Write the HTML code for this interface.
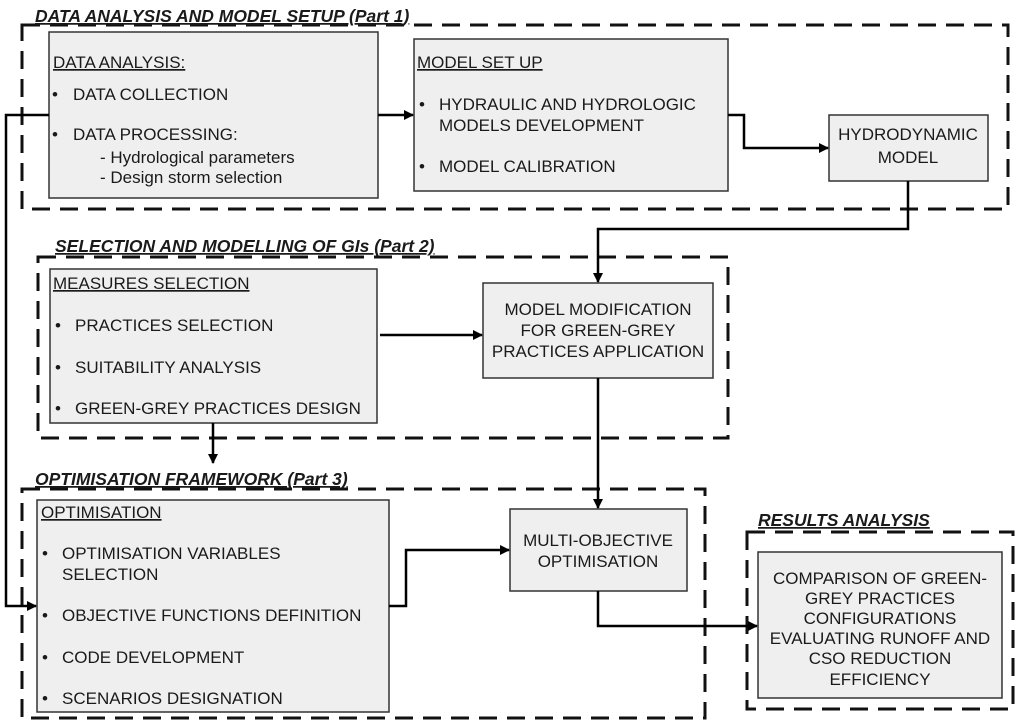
<!DOCTYPE html>
<html><head><meta charset="utf-8"><style>
html,body{margin:0;padding:0;background:#fff;}
svg{display:block;}
text{font-family:"Liberation Sans",Arial,sans-serif;font-size:17px;fill:#1a1a1a;}
.t{font-weight:bold;font-style:italic;font-size:17.5px;text-decoration:underline;}
.u{text-decoration:underline;}
.box{fill:#efefef;stroke:#333;stroke-width:1.5;}
.d{fill:none;stroke:#111;stroke-width:3;stroke-dasharray:18 10;}
.l{fill:none;stroke:#000;stroke-width:2.5;}
</style></head><body>
<svg width="1024" height="726" viewBox="0 0 1024 726" xmlns="http://www.w3.org/2000/svg">
<defs><marker id="a" markerWidth="10" markerHeight="10" refX="9" refY="5" orient="auto" markerUnits="userSpaceOnUse"><path d="M0,0 L10,5 L0,10 z" fill="#000"/></marker></defs>

<rect class="d" x="22" y="25" width="986" height="184"/>
<rect class="d" x="38" y="257" width="690" height="181"/>
<rect class="d" x="22" y="489" width="683" height="229"/>
<rect class="d" x="747" y="532" width="266" height="177"/>

<text class="t" x="35" y="22">DATA ANALYSIS AND MODEL SETUP (Part 1)</text>
<text class="t" x="55" y="252">SELECTION AND MODELLING OF GIs (Part 2)</text>
<text class="t" x="35" y="485">OPTIMISATION FRAMEWORK (Part 3)</text>
<text class="t" x="758" y="526">RESULTS ANALYSIS</text>

<rect class="box" x="49" y="32" width="329" height="166"/>
<text class="u" x="53" y="68">DATA ANALYSIS:</text>
<text x="52" y="100">•</text><text x="73" y="100">DATA COLLECTION</text>
<text x="52" y="140">•</text><text x="73" y="140">DATA PROCESSING:</text>
<text x="100" y="163">- Hydrological parameters</text>
<text x="100" y="183">- Design storm selection</text>

<rect class="box" x="414" y="39" width="314" height="152"/>
<text class="u" x="417" y="68">MODEL SET UP</text>
<text x="419" y="110">•</text><text x="439" y="110">HYDRAULIC AND HYDROLOGIC</text>
<text x="439" y="131">MODELS DEVELOPMENT</text>
<text x="419" y="172">•</text><text x="439" y="172">MODEL CALIBRATION</text>

<rect class="box" x="829" y="115" width="159" height="66"/>
<text x="908" y="140" text-anchor="middle">HYDRODYNAMIC</text>
<text x="908" y="163" text-anchor="middle">MODEL</text>

<rect class="box" x="50" y="269" width="327" height="154"/>
<text class="u" x="53" y="289">MEASURES SELECTION</text>
<text x="55" y="331">•</text><text x="75" y="331">PRACTICES SELECTION</text>
<text x="55" y="373">•</text><text x="75" y="373">SUITABILITY ANALYSIS</text>
<text x="55" y="414">•</text><text x="75" y="414">GREEN-GREY PRACTICES DESIGN</text>

<rect class="box" x="483" y="283" width="230" height="95"/>
<text x="598" y="315" text-anchor="middle">MODEL MODIFICATION</text>
<text x="598" y="336" text-anchor="middle">FOR GREEN-GREY</text>
<text x="598" y="357" text-anchor="middle">PRACTICES APPLICATION</text>

<rect class="box" x="37" y="500" width="352" height="212"/>
<text class="u" x="41" y="518">OPTIMISATION</text>
<text x="42" y="559">•</text><text x="62" y="559">OPTIMISATION VARIABLES</text>
<text x="62" y="580">SELECTION</text>
<text x="42" y="621">•</text><text x="62" y="621">OBJECTIVE FUNCTIONS DEFINITION</text>
<text x="42" y="663">•</text><text x="62" y="663">CODE DEVELOPMENT</text>
<text x="42" y="704">•</text><text x="62" y="704">SCENARIOS DESIGNATION</text>

<rect class="box" x="510" y="509" width="177" height="82"/>
<text x="598" y="546" text-anchor="middle">MULTI-OBJECTIVE</text>
<text x="598" y="567" text-anchor="middle">OPTIMISATION</text>

<rect class="box" x="758" y="552" width="244" height="146"/>
<text x="880" y="584" text-anchor="middle">COMPARISON OF GREEN-</text>
<text x="880" y="604" text-anchor="middle">GREY PRACTICES</text>
<text x="880" y="624" text-anchor="middle">CONFIGURATIONS</text>
<text x="880" y="644" text-anchor="middle">EVALUATING RUNOFF AND</text>
<text x="880" y="664" text-anchor="middle">CSO REDUCTION</text>
<text x="880" y="685" text-anchor="middle">EFFICIENCY</text>

<path class="l" d="M378,115 L413,115" marker-end="url(#a)"/>
<path class="l" d="M728,115 L744,115 L744,148 L828,148" marker-end="url(#a)"/>
<path class="l" d="M908,181 L908,229 L598,229 L598,282" marker-end="url(#a)"/>
<path class="l" d="M49,115 L6,115 L6,606 L36,606" marker-end="url(#a)"/>
<path class="l" d="M380,335 L482,335" marker-end="url(#a)"/>
<path class="l" d="M213,423 L213,463" marker-end="url(#a)"/>
<path class="l" d="M598,378 L598,508" marker-end="url(#a)"/>
<path class="l" d="M389,606 L406,606 L406,550 L509,550" marker-end="url(#a)"/>
<path class="l" d="M598,591 L598,626 L757,626" marker-end="url(#a)"/>
</svg>
</body></html>
